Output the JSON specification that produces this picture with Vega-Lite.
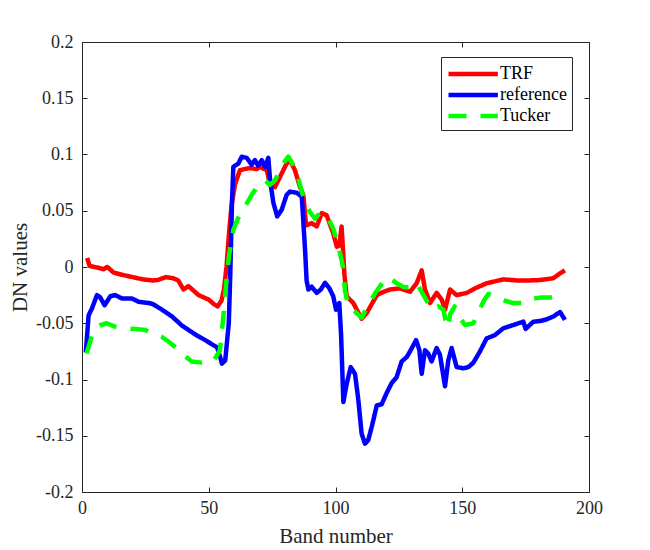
{
"$schema": "https://vega.github.io/schema/vega-lite/v6.json",
"width": 507, "height": 450,
"autosize": {"type": "none"},
"padding": {"left": 82, "top": 42, "right": 61, "bottom": 58},
"background": "white",
"config": {
  "view": {"stroke": "#262626", "strokeWidth": 1},
  "font": "Liberation Serif, Times New Roman, serif",
  "axis": {"grid": false, "labelFont": "Liberation Serif, Times New Roman, serif", "titleFont": "Liberation Serif, Times New Roman, serif", "labelFontSize": 18, "titleFontSize": 21, "titleFontWeight": "normal", "labelColor": "#262626", "titleColor": "#262626", "tickColor": "#262626", "domainColor": "#262626", "tickSize": -5, "labelFlush": false, "labelOverlap": false},
  "legend": {"labelFont": "Liberation Serif, Times New Roman, serif"}
},
"datasets": {"d": [
{"s":"TRF","b":2,"v":0.008},{"s":"TRF","b":3,"v":0.001},{"s":"TRF","b":5,"v":0.0},{"s":"TRF","b":7,"v":-0.001},{"s":"TRF","b":8.5,"v":-0.002},{"s":"TRF","b":10,"v":0.0},{"s":"TRF","b":12.5,"v":-0.005},{"s":"TRF","b":16,"v":-0.007},{"s":"TRF","b":20,"v":-0.009},{"s":"TRF","b":24,"v":-0.011},{"s":"TRF","b":28,"v":-0.012},{"s":"TRF","b":30,"v":-0.0115},{"s":"TRF","b":33,"v":-0.009},{"s":"TRF","b":36,"v":-0.010},{"s":"TRF","b":38,"v":-0.012},{"s":"TRF","b":40,"v":-0.020},{"s":"TRF","b":42,"v":-0.017},{"s":"TRF","b":44,"v":-0.021},{"s":"TRF","b":46,"v":-0.025},{"s":"TRF","b":48,"v":-0.027},{"s":"TRF","b":50,"v":-0.029},{"s":"TRF","b":52,"v":-0.033},{"s":"TRF","b":53.5,"v":-0.035},{"s":"TRF","b":55,"v":-0.030},{"s":"TRF","b":56,"v":-0.020},{"s":"TRF","b":57,"v":0.0},{"s":"TRF","b":58,"v":0.030},{"s":"TRF","b":59,"v":0.055},{"s":"TRF","b":60.4,"v":0.074},{"s":"TRF","b":62.3,"v":0.086},{"s":"TRF","b":64,"v":0.087},{"s":"TRF","b":66.3,"v":0.088},{"s":"TRF","b":68.9,"v":0.087},{"s":"TRF","b":70.2,"v":0.089},{"s":"TRF","b":72.9,"v":0.086},{"s":"TRF","b":74.2,"v":0.073},{"s":"TRF","b":76.1,"v":0.071},{"s":"TRF","b":78.1,"v":0.080},{"s":"TRF","b":80.7,"v":0.092},{"s":"TRF","b":82,"v":0.095},{"s":"TRF","b":84,"v":0.086},{"s":"TRF","b":86,"v":0.071},{"s":"TRF","b":87.3,"v":0.064},{"s":"TRF","b":88.4,"v":0.037},{"s":"TRF","b":90.6,"v":0.039},{"s":"TRF","b":92.6,"v":0.036},{"s":"TRF","b":94.6,"v":0.048},{"s":"TRF","b":96.5,"v":0.046},{"s":"TRF","b":99.1,"v":0.030},{"s":"TRF","b":100.5,"v":0.018},{"s":"TRF","b":101.5,"v":0.019},{"s":"TRF","b":102.4,"v":0.036},{"s":"TRF","b":103.1,"v":0.010},{"s":"TRF","b":103.5,"v":-0.006},{"s":"TRF","b":104.4,"v":-0.026},{"s":"TRF","b":107,"v":-0.032},{"s":"TRF","b":110.3,"v":-0.046},{"s":"TRF","b":112.3,"v":-0.041},{"s":"TRF","b":116.3,"v":-0.025},{"s":"TRF","b":119,"v":-0.022},{"s":"TRF","b":121.5,"v":-0.020},{"s":"TRF","b":125.4,"v":-0.019},{"s":"TRF","b":129.4,"v":-0.022},{"s":"TRF","b":132,"v":-0.0145},{"s":"TRF","b":134,"v":-0.003},{"s":"TRF","b":135.3,"v":-0.020},{"s":"TRF","b":137.3,"v":-0.032},{"s":"TRF","b":139.9,"v":-0.023},{"s":"TRF","b":141.9,"v":-0.029},{"s":"TRF","b":143.2,"v":-0.038},{"s":"TRF","b":145.2,"v":-0.020},{"s":"TRF","b":147.8,"v":-0.025},{"s":"TRF","b":151.8,"v":-0.023},{"s":"TRF","b":155,"v":-0.019},{"s":"TRF","b":159.6,"v":-0.0145},{"s":"TRF","b":166.2,"v":-0.011},{"s":"TRF","b":172,"v":-0.012},{"s":"TRF","b":176,"v":-0.012},{"s":"TRF","b":180.7,"v":-0.0116},{"s":"TRF","b":185.9,"v":-0.010},{"s":"TRF","b":188.6,"v":-0.0056},{"s":"TRF","b":190.5,"v":-0.003},
{"s":"reference","b":1.5,"v":-0.076},{"s":"reference","b":2.6,"v":-0.043},{"s":"reference","b":3.9,"v":-0.037},{"s":"reference","b":5.9,"v":-0.025},{"s":"reference","b":7.2,"v":-0.027},{"s":"reference","b":8.9,"v":-0.034},{"s":"reference","b":11.2,"v":-0.026},{"s":"reference","b":13.1,"v":-0.025},{"s":"reference","b":15.8,"v":-0.028},{"s":"reference","b":19.7,"v":-0.028},{"s":"reference","b":22.4,"v":-0.031},{"s":"reference","b":26.3,"v":-0.032},{"s":"reference","b":28,"v":-0.033},{"s":"reference","b":31.6,"v":-0.038},{"s":"reference","b":35.5,"v":-0.044},{"s":"reference","b":39.4,"v":-0.052},{"s":"reference","b":44.7,"v":-0.060},{"s":"reference","b":48.6,"v":-0.065},{"s":"reference","b":53.3,"v":-0.0715},{"s":"reference","b":54.5,"v":-0.080},{"s":"reference","b":55.2,"v":-0.086},{"s":"reference","b":56.5,"v":-0.083},{"s":"reference","b":57.9,"v":-0.050},{"s":"reference","b":58.5,"v":-0.006},{"s":"reference","b":59.2,"v":0.060},{"s":"reference","b":59.7,"v":0.089},{"s":"reference","b":61.7,"v":0.092},{"s":"reference","b":63,"v":0.098},{"s":"reference","b":65,"v":0.097},{"s":"reference","b":66.9,"v":0.091},{"s":"reference","b":68.2,"v":0.095},{"s":"reference","b":69.5,"v":0.090},{"s":"reference","b":70.9,"v":0.095},{"s":"reference","b":72.2,"v":0.089},{"s":"reference","b":73.5,"v":0.097},{"s":"reference","b":74.2,"v":0.077},{"s":"reference","b":75.5,"v":0.057},{"s":"reference","b":77,"v":0.045},{"s":"reference","b":78.8,"v":0.051},{"s":"reference","b":80.7,"v":0.064},{"s":"reference","b":82,"v":0.067},{"s":"reference","b":84.7,"v":0.066},{"s":"reference","b":86.7,"v":0.0625},{"s":"reference","b":88,"v":0.015},{"s":"reference","b":88.6,"v":-0.012},{"s":"reference","b":89.3,"v":-0.020},{"s":"reference","b":90.6,"v":-0.0175},{"s":"reference","b":92.6,"v":-0.023},{"s":"reference","b":94.2,"v":-0.020},{"s":"reference","b":95.9,"v":-0.014},{"s":"reference","b":97.6,"v":-0.019},{"s":"reference","b":99.1,"v":-0.026},{"s":"reference","b":100.2,"v":-0.038},{"s":"reference","b":101.5,"v":-0.032},{"s":"reference","b":102.2,"v":-0.060},{"s":"reference","b":103.1,"v":-0.120},{"s":"reference","b":104.4,"v":-0.104},{"s":"reference","b":106,"v":-0.089},{"s":"reference","b":107.7,"v":-0.095},{"s":"reference","b":109,"v":-0.118},{"s":"reference","b":110.3,"v":-0.148},{"s":"reference","b":111.6,"v":-0.157},{"s":"reference","b":112.9,"v":-0.154},{"s":"reference","b":114.3,"v":-0.142},{"s":"reference","b":116.3,"v":-0.123},{"s":"reference","b":118.2,"v":-0.122},{"s":"reference","b":120.4,"v":-0.111},{"s":"reference","b":122.2,"v":-0.103},{"s":"reference","b":124.1,"v":-0.098},{"s":"reference","b":126.1,"v":-0.084},{"s":"reference","b":128.1,"v":-0.080},{"s":"reference","b":129.4,"v":-0.075},{"s":"reference","b":131.8,"v":-0.065},{"s":"reference","b":133.1,"v":-0.074},{"s":"reference","b":134,"v":-0.095},{"s":"reference","b":135.3,"v":-0.074},{"s":"reference","b":136.6,"v":-0.077},{"s":"reference","b":137.9,"v":-0.084},{"s":"reference","b":139.9,"v":-0.072},{"s":"reference","b":141.2,"v":-0.078},{"s":"reference","b":143.2,"v":-0.106},{"s":"reference","b":144.5,"v":-0.083},{"s":"reference","b":145.8,"v":-0.072},{"s":"reference","b":147.8,"v":-0.089},{"s":"reference","b":150.4,"v":-0.090},{"s":"reference","b":152.4,"v":-0.089},{"s":"reference","b":154.4,"v":-0.085},{"s":"reference","b":157,"v":-0.075},{"s":"reference","b":159.6,"v":-0.0635},{"s":"reference","b":162.9,"v":-0.0605},{"s":"reference","b":166.2,"v":-0.0545},{"s":"reference","b":170.1,"v":-0.0516},{"s":"reference","b":174.1,"v":-0.0486},{"s":"reference","b":175,"v":-0.055},{"s":"reference","b":178,"v":-0.0487},{"s":"reference","b":180.7,"v":-0.048},{"s":"reference","b":183.3,"v":-0.0465},{"s":"reference","b":185.9,"v":-0.044},{"s":"reference","b":188.6,"v":-0.040},{"s":"reference","b":190.5,"v":-0.047},
{"s":"Tucker","b":1.8,"v":-0.077},{"s":"Tucker","b":3.8,"v":-0.062},{"s":"Tucker","b":5,"v":-0.055},{"s":"Tucker","b":7,"v":-0.052},{"s":"Tucker","b":9.7,"v":-0.050},{"s":"Tucker","b":13,"v":-0.053},{"s":"Tucker","b":17,"v":-0.0546},{"s":"Tucker","b":21,"v":-0.055},{"s":"Tucker","b":24.9,"v":-0.056},{"s":"Tucker","b":28,"v":-0.059},{"s":"Tucker","b":31.4,"v":-0.062},{"s":"Tucker","b":34,"v":-0.066},{"s":"Tucker","b":37.3,"v":-0.072},{"s":"Tucker","b":40,"v":-0.078},{"s":"Tucker","b":43.3,"v":-0.084},{"s":"Tucker","b":47,"v":-0.085},{"s":"Tucker","b":51.8,"v":-0.084},{"s":"Tucker","b":54.4,"v":-0.074},{"s":"Tucker","b":55.9,"v":-0.041},{"s":"Tucker","b":57.1,"v":-0.009},{"s":"Tucker","b":58,"v":0.010},{"s":"Tucker","b":59.7,"v":0.033},{"s":"Tucker","b":61.5,"v":0.043},{"s":"Tucker","b":63.6,"v":0.051},{"s":"Tucker","b":66.9,"v":0.064},{"s":"Tucker","b":69,"v":0.071},{"s":"Tucker","b":72.2,"v":0.077},{"s":"Tucker","b":74.2,"v":0.073},{"s":"Tucker","b":76.1,"v":0.077},{"s":"Tucker","b":78.1,"v":0.086},{"s":"Tucker","b":80,"v":0.094},{"s":"Tucker","b":81.4,"v":0.098},{"s":"Tucker","b":83,"v":0.092},{"s":"Tucker","b":85.3,"v":0.079},{"s":"Tucker","b":86.7,"v":0.067},{"s":"Tucker","b":88,"v":0.058},{"s":"Tucker","b":89.9,"v":0.049},{"s":"Tucker","b":91.9,"v":0.043},{"s":"Tucker","b":93.9,"v":0.048},{"s":"Tucker","b":96.5,"v":0.046},{"s":"Tucker","b":99.1,"v":0.034},{"s":"Tucker","b":101,"v":0.020},{"s":"Tucker","b":102.4,"v":0.006},{"s":"Tucker","b":103.1,"v":-0.002},{"s":"Tucker","b":103.7,"v":-0.020},{"s":"Tucker","b":105,"v":-0.035},{"s":"Tucker","b":107,"v":-0.038},{"s":"Tucker","b":110.3,"v":-0.045},{"s":"Tucker","b":113.6,"v":-0.031},{"s":"Tucker","b":116,"v":-0.022},{"s":"Tucker","b":118.9,"v":-0.013},{"s":"Tucker","b":121,"v":-0.009},{"s":"Tucker","b":124.1,"v":-0.0145},{"s":"Tucker","b":127,"v":-0.018},{"s":"Tucker","b":130,"v":-0.018},{"s":"Tucker","b":132,"v":-0.0145},{"s":"Tucker","b":134.7,"v":-0.025},{"s":"Tucker","b":136.5,"v":-0.032},{"s":"Tucker","b":138.6,"v":-0.038},{"s":"Tucker","b":140.6,"v":-0.035},{"s":"Tucker","b":142.6,"v":-0.038},{"s":"Tucker","b":143.6,"v":-0.050},{"s":"Tucker","b":144.5,"v":-0.054},{"s":"Tucker","b":145.2,"v":-0.042},{"s":"Tucker","b":147,"v":-0.035},{"s":"Tucker","b":149,"v":-0.045},{"s":"Tucker","b":151.1,"v":-0.0516},{"s":"Tucker","b":154.4,"v":-0.050},{"s":"Tucker","b":156.3,"v":-0.041},{"s":"Tucker","b":158.5,"v":-0.030},{"s":"Tucker","b":160.3,"v":-0.024},{"s":"Tucker","b":163,"v":-0.026},{"s":"Tucker","b":166.9,"v":-0.030},{"s":"Tucker","b":170,"v":-0.032},{"s":"Tucker","b":174.1,"v":-0.032},{"s":"Tucker","b":176.7,"v":-0.0287},{"s":"Tucker","b":181.3,"v":-0.027},{"s":"Tucker","b":185,"v":-0.027},{"s":"Tucker","b":189.6,"v":-0.025},{"s":"Tucker","b":190.5,"v":-0.023}
]},
"data": {"name": "d"},
"layer": [
  {
    "transform": [{"filter": "datum.s === 'TRF'"}],
    "mark": {"type": "line", "strokeWidth": 4.5, "strokeJoin": "round", "strokeCap": "butt"},
    "encoding": {
      "x": {"field": "b", "type": "quantitative", "scale": {"domain": [0, 200], "nice": false, "zero": false},
            "axis": {"orient": "bottom", "values": [0, 50, 100, 150, 200], "title": "Band number", "labelPadding": 12, "titlePadding": 8}},
      "y": {"field": "v", "type": "quantitative", "scale": {"domain": [-0.2, 0.2], "nice": false, "zero": false},
            "axis": {"orient": "left", "values": [-0.2, -0.15, -0.1, -0.05, 0, 0.05, 0.1, 0.15, 0.2], "labelExpr": "toString(datum.value)", "title": "DN values", "labelPadding": 14, "titlePadding": 5}},
      "color": {"field": "s", "type": "nominal", "scale": {"domain": ["TRF", "reference", "Tucker"], "range": ["#ff0000", "#0000ff", "#00ff00"]},
                "legend": {"orient": "none", "legendX": 359, "legendY": 15, "title": null, "symbolType": "M-1,0H4.2", "symbolSize": 361, "symbolStrokeWidth": 4.5, "labelFontSize": 18, "labelColor": "#000000", "strokeColor": "#262626", "fillColor": "white", "padding": 5, "rowPadding": 0, "labelOffset": 30}},
      "strokeDash": {"field": "s", "type": "nominal", "scale": {"domain": ["TRF", "reference", "Tucker"], "range": [[1, 0], [1, 0], [18, 14]]},
                "legend": {"orient": "none", "legendX": 359, "legendY": 15, "title": null, "symbolType": "M-1,0H4.2", "symbolSize": 361, "symbolStrokeWidth": 4.5, "labelFontSize": 18, "labelColor": "#000000", "strokeColor": "#262626", "fillColor": "white", "padding": 5, "rowPadding": 0, "labelOffset": 30}}
    }
  },
  {
    "transform": [{"filter": "datum.s === 'reference'"}],
    "mark": {"type": "line", "strokeWidth": 4.5, "strokeJoin": "round", "strokeCap": "butt"},
    "encoding": {
      "x": {"field": "b", "type": "quantitative", "axis": null},
      "y": {"field": "v", "type": "quantitative", "axis": null},
      "color": {"field": "s", "type": "nominal"},
      "strokeDash": {"field": "s", "type": "nominal"}
    }
  },
  {
    "transform": [{"filter": "datum.s === 'Tucker'"}],
    "mark": {"type": "line", "strokeWidth": 4.5, "strokeJoin": "round", "strokeCap": "butt"},
    "encoding": {
      "x": {"field": "b", "type": "quantitative", "axis": null},
      "y": {"field": "v", "type": "quantitative", "axis": null},
      "color": {"field": "s", "type": "nominal"},
      "strokeDash": {"field": "s", "type": "nominal"}
    }
  },
  {
    "mark": {"type": "line", "opacity": 0},
    "encoding": {
      "x": {"field": "b", "type": "quantitative", "axis": {"orient": "top", "values": [0, 50, 100, 150, 200], "labels": false, "title": null}},
      "y": {"field": "v", "type": "quantitative", "axis": {"orient": "right", "values": [-0.2, -0.15, -0.1, -0.05, 0, 0.05, 0.1, 0.15, 0.2], "labels": false, "title": null}},
      "detail": {"field": "s", "type": "nominal"}
    }
  }
],
"resolve": {"axis": {"x": "independent", "y": "independent"}}
}
